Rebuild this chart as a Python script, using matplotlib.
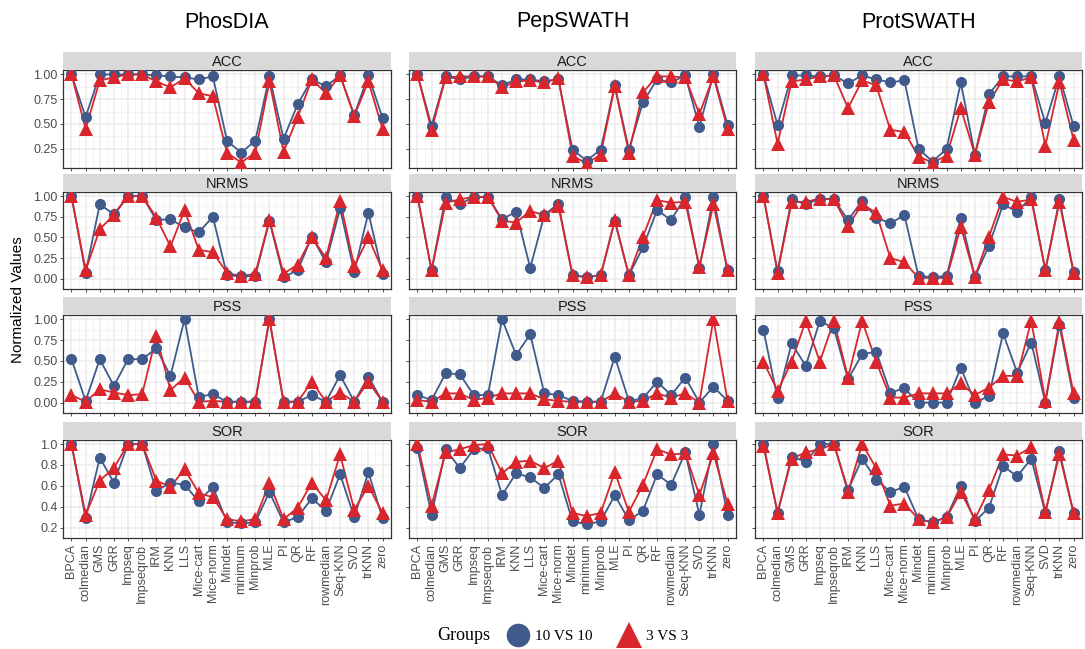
import numpy as np
import matplotlib
matplotlib.use("Agg")
import matplotlib.pyplot as plt
from matplotlib.lines import Line2D
from matplotlib.ticker import FormatStrFormatter

plt.rcParams['font.family'] = ['Liberation Sans', 'DejaVu Sans']

methods = ["BPCA", "colmedian", "GMS", "GRR", "Impseq", "Impseqrob", "IRM", "KNN",
           "LLS", "Mice-cart", "Mice-norm", "Mindet", "minimum", "Minprob", "MLE",
           "PI", "QR", "RF", "rowmedian", "Seq-KNN", "SVD", "trKNN", "zero"]
datasets = ["PhosDIA", "PepSWATH", "ProtSWATH"]
metrics = ["ACC", "NRMS", "PSS", "SOR"]
groups = ["10 VS 10", "3 VS 3"]

# PhosDIA
phos_acc_10 = [1.00, 0.57, 1.00, 1.00, 1.00, 1.00, 0.99, 0.98, 0.97, 0.95, 0.98, 0.33, 0.21, 0.33, 0.98, 0.35, 0.70, 0.95, 0.88, 0.99, 0.59, 0.99, 0.56]
phos_acc_3 = [1.00, 0.45, 0.94, 0.97, 1.00, 1.00, 0.93, 0.87, 0.96, 0.81, 0.78, 0.21, 0.11, 0.21, 0.93, 0.22, 0.57, 0.95, 0.81, 0.99, 0.58, 0.93, 0.45]
phos_nrms_10 = [1.00, 0.07, 0.90, 0.78, 1.00, 1.00, 0.71, 0.72, 0.62, 0.56, 0.75, 0.04, 0.03, 0.03, 0.70, 0.02, 0.10, 0.51, 0.20, 0.85, 0.08, 0.80, 0.06]
phos_nrms_3 = [1.00, 0.10, 0.60, 0.77, 1.00, 1.00, 0.74, 0.39, 0.83, 0.35, 0.32, 0.07, 0.03, 0.06, 0.71, 0.06, 0.17, 0.50, 0.25, 0.94, 0.15, 0.50, 0.10]
phos_pss_10 = [0.52, 0.02, 0.52, 0.20, 0.52, 0.52, 0.65, 0.32, 1.00, 0.07, 0.10, 0.01, 0.01, 0.01, 1.00, 0.01, 0.01, 0.09, 0.01, 0.33, 0.01, 0.31, 0.01]
phos_pss_3 = [0.09, 0.01, 0.16, 0.12, 0.09, 0.10, 0.80, 0.15, 0.30, 0.01, 0.02, 0.01, 0.01, 0.01, 1.00, 0.01, 0.01, 0.25, 0.01, 0.12, 0.01, 0.25, 0.01]
phos_sor_10 = [1.00, 0.29, 0.87, 0.63, 1.00, 1.00, 0.55, 0.63, 0.61, 0.45, 0.59, 0.25, 0.24, 0.25, 0.54, 0.25, 0.30, 0.48, 0.36, 0.71, 0.30, 0.73, 0.29]
phos_sor_3 = [1.00, 0.32, 0.65, 0.77, 1.00, 1.00, 0.65, 0.59, 0.76, 0.53, 0.49, 0.28, 0.26, 0.28, 0.63, 0.28, 0.39, 0.63, 0.46, 0.90, 0.37, 0.60, 0.34]

# PepSWATH
pep_acc_10 = [1.00, 0.48, 0.98, 0.95, 0.98, 0.98, 0.89, 0.95, 0.95, 0.93, 0.95, 0.24, 0.13, 0.24, 0.89, 0.24, 0.72, 0.95, 0.92, 0.99, 0.47, 1.00, 0.49]
pep_acc_3 = [1.00, 0.44, 0.97, 0.98, 0.98, 0.98, 0.87, 0.93, 0.94, 0.92, 0.96, 0.18, 0.10, 0.19, 0.88, 0.21, 0.82, 0.98, 0.98, 0.97, 0.60, 0.98, 0.45]
pep_nrms_10 = [1.00, 0.10, 0.99, 0.90, 0.99, 0.99, 0.72, 0.81, 0.13, 0.77, 0.91, 0.04, 0.02, 0.04, 0.70, 0.04, 0.38, 0.83, 0.71, 0.99, 0.13, 0.99, 0.10]
pep_nrms_3 = [1.00, 0.10, 0.92, 0.96, 0.99, 0.99, 0.70, 0.68, 0.82, 0.77, 0.88, 0.04, 0.02, 0.04, 0.71, 0.04, 0.51, 0.95, 0.92, 0.93, 0.14, 0.90, 0.10]
pep_pss_10 = [0.09, 0.03, 0.35, 0.34, 0.09, 0.09, 1.00, 0.57, 0.82, 0.11, 0.09, 0.02, 0.01, 0.01, 0.55, 0.02, 0.05, 0.25, 0.09, 0.30, 0.00, 0.19, 0.02]
pep_pss_3 = [0.03, 0.01, 0.11, 0.11, 0.03, 0.06, 0.11, 0.11, 0.11, 0.04, 0.02, 0.01, 0.01, 0.01, 0.11, 0.01, 0.02, 0.11, 0.06, 0.11, 0.00, 1.00, 0.02]
pep_sor_10 = [0.96, 0.32, 0.95, 0.77, 0.95, 0.96, 0.51, 0.72, 0.68, 0.58, 0.71, 0.26, 0.23, 0.26, 0.51, 0.27, 0.36, 0.71, 0.61, 0.92, 0.32, 1.00, 0.32]
pep_sor_3 = [1.00, 0.41, 0.92, 0.95, 0.99, 1.00, 0.72, 0.83, 0.84, 0.77, 0.84, 0.34, 0.31, 0.34, 0.73, 0.35, 0.61, 0.95, 0.90, 0.91, 0.51, 0.91, 0.43]

# ProtSWATH
prot_acc_10 = [1.00, 0.49, 0.99, 0.99, 0.98, 0.99, 0.91, 0.99, 0.95, 0.92, 0.94, 0.25, 0.12, 0.25, 0.92, 0.19, 0.80, 0.98, 0.98, 0.98, 0.51, 0.98, 0.48]
prot_acc_3 = [1.00, 0.30, 0.93, 0.95, 0.98, 0.99, 0.66, 0.94, 0.89, 0.44, 0.42, 0.17, 0.11, 0.18, 0.66, 0.19, 0.72, 0.95, 0.93, 0.97, 0.28, 0.92, 0.34]
prot_nrms_10 = [1.00, 0.09, 0.96, 0.90, 0.97, 0.96, 0.71, 0.94, 0.74, 0.67, 0.77, 0.03, 0.02, 0.03, 0.74, 0.02, 0.40, 0.90, 0.81, 0.99, 0.10, 0.96, 0.08]
prot_nrms_3 = [1.00, 0.07, 0.93, 0.93, 0.97, 0.96, 0.64, 0.90, 0.80, 0.25, 0.20, 0.01, 0.01, 0.01, 0.63, 0.02, 0.51, 0.99, 0.93, 0.96, 0.10, 0.93, 0.07]
prot_pss_10 = [0.87, 0.05, 0.71, 0.44, 0.98, 0.89, 0.28, 0.58, 0.61, 0.12, 0.17, 0.00, 0.00, 0.00, 0.42, 0.00, 0.08, 0.83, 0.36, 0.72, 0.00, 0.93, 0.06]
prot_pss_3 = [0.49, 0.14, 0.49, 0.98, 0.49, 0.98, 0.30, 0.98, 0.49, 0.06, 0.06, 0.11, 0.11, 0.11, 0.23, 0.09, 0.18, 0.32, 0.32, 0.98, 0.02, 0.97, 0.11]
prot_sor_10 = [1.00, 0.34, 0.88, 0.83, 1.00, 1.00, 0.56, 0.86, 0.66, 0.54, 0.59, 0.28, 0.25, 0.30, 0.60, 0.26, 0.39, 0.79, 0.69, 0.86, 0.34, 0.93, 0.34]
prot_sor_3 = [0.98, 0.34, 0.86, 0.92, 0.95, 1.00, 0.54, 1.00, 0.77, 0.41, 0.43, 0.28, 0.25, 0.30, 0.54, 0.28, 0.56, 0.90, 0.89, 0.97, 0.35, 0.90, 0.34]

values = {
    ("PhosDIA", "ACC"): (phos_acc_10, phos_acc_3),
    ("PhosDIA", "NRMS"): (phos_nrms_10, phos_nrms_3),
    ("PhosDIA", "PSS"): (phos_pss_10, phos_pss_3),
    ("PhosDIA", "SOR"): (phos_sor_10, phos_sor_3),
    ("PepSWATH", "ACC"): (pep_acc_10, pep_acc_3),
    ("PepSWATH", "NRMS"): (pep_nrms_10, pep_nrms_3),
    ("PepSWATH", "PSS"): (pep_pss_10, pep_pss_3),
    ("PepSWATH", "SOR"): (pep_sor_10, pep_sor_3),
    ("ProtSWATH", "ACC"): (prot_acc_10, prot_acc_3),
    ("ProtSWATH", "NRMS"): (prot_nrms_10, prot_nrms_3),
    ("ProtSWATH", "PSS"): (prot_pss_10, prot_pss_3),
    ("ProtSWATH", "SOR"): (prot_sor_10, prot_sor_3),
}

yticks = {
    "ACC": [0.25, 0.50, 0.75, 1.00],
    "NRMS": [0.0, 0.25, 0.50, 0.75, 1.00],
    "PSS": [0.0, 0.25, 0.50, 0.75, 1.00],
    "SOR": [0.2, 0.4, 0.6, 0.8, 1.0],
}
yfmt = {"ACC": "%.2f", "NRMS": "%.2f", "PSS": "%.2f", "SOR": "%.1f"}

BLUE = "#405A8B"
RED = "#D8262C"
W, H = 1085, 649

fig = plt.figure(figsize=(W / 100, H / 100), dpi=100)

col_x = [(63, 391), (409, 736), (755, 1082)]
row_y = [(70, 168), (192, 289), (315, 413), (440, 538)]
strip_h = 18

x = np.arange(len(methods))

for ci, ds in enumerate(datasets):
    x0, x1 = col_x[ci]
    fig.text((x0 + x1) / 2 / W, 1 - 22 / H, ds, ha="center", va="center", fontsize=15.5)
    for ri, m in enumerate(metrics):
        y0, y1 = row_y[ri]
        ax = fig.add_axes([x0 / W, 1 - y1 / H, (x1 - x0) / W, (y1 - y0) / H])
        sax = fig.add_axes([x0 / W, 1 - y0 / H, (x1 - x0) / W, strip_h / H])
        sax.set_facecolor("#D9D9D9")
        sax.set_xticks([])
        sax.set_yticks([])
        for s in sax.spines.values():
            s.set_visible(False)
        sax.text(0.5, 0.45, m, ha="center", va="center", fontsize=10.5, color="#1A1A1A",
                 transform=sax.transAxes)

        # shared y range per row
        allv = []
        for d in datasets:
            allv += values[(d, m)][0] + values[(d, m)][1]
        lo, hi = min(allv), max(allv)
        pad = (hi - lo) * 0.05
        ax.set_ylim(lo - pad, hi + pad)
        ax.set_xlim(-0.6, len(methods) - 0.4)

        v10, v3 = values[(ds, m)]
        ax.plot(x, v10, color=BLUE, lw=1.3, zorder=3)
        ax.plot(x, v3, color=RED, lw=1.3, zorder=3)
        ax.plot(x, v10, "o", color=BLUE, ms=8, zorder=4, markeredgewidth=0)
        ax.plot(x, v3, "^", color=RED, ms=9.5, zorder=5, markeredgewidth=0)

        t = yticks[m]
        ax.set_yticks(t)
        ax.set_yticks(np.arange(t[0] - (t[1] - t[0]) / 2, hi + pad, (t[1] - t[0]) / 2), minor=True)
        ax.set_xticks(x)
        ax.set_xticks(x[:-1] + 0.5, minor=True)
        ax.grid(True, which="major", color="#EBEBEB", lw=1.1, zorder=0)
        ax.grid(True, which="minor", color="#F2F2F2", lw=0.6, zorder=0)
        ax.set_axisbelow(True)
        ax.tick_params(which="minor", length=0)
        ax.tick_params(which="major", length=2.5, color="#333333", width=0.6)
        for s in ax.spines.values():
            s.set_color("#333333")
            s.set_linewidth(0.9)

        if ci == 0:
            ax.yaxis.set_major_formatter(FormatStrFormatter(yfmt[m]))
            ax.tick_params(axis="y", labelsize=9, labelcolor="#4D4D4D", pad=1.5)
        else:
            ax.tick_params(axis="y", labelleft=False)
        if ri == len(metrics) - 1:
            ax.set_xticklabels(methods, rotation=90, fontsize=9, color="#4D4D4D")
            ax.tick_params(axis="x", pad=1.5)
        else:
            ax.tick_params(axis="x", labelbottom=False)

fig.text(18 / W, 1 - 300 / H, "Normalized Values", rotation=90, ha="center", va="center",
         fontsize=11)

# legend
fig.text(490 / W, 1 - 636 / H, "Groups", ha="right", va="center", fontsize=13,
         family="Liberation Serif")
handles = [Line2D([], [], marker="o", color=BLUE, ls="", ms=17, markeredgewidth=0),
           Line2D([], [], marker="^", color=RED, ls="", ms=19, markeredgewidth=0)]
fig.legend(handles, groups, loc="center", bbox_to_anchor=(597 / W, 1 - 636 / H), ncol=2,
           frameon=False, prop={"family": "Liberation Serif", "size": 11},
           handletextpad=0.3, columnspacing=1.6, handlelength=1.6)

fig.savefig("out.png", dpi=100)
